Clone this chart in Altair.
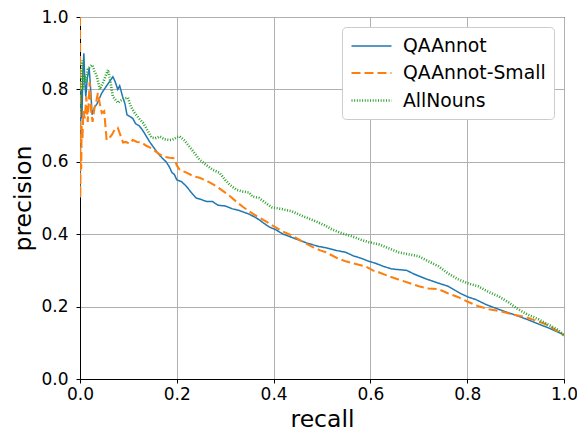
import altair as alt
import pandas as pd

series_names = ["QAAnnot", "QAAnnot-Small", "AllNouns"]
series_colors = ["#1f77b4", "#ff7f0e", "#2ca02c"]

qa_recall = [0.000, 0.002, 0.004, 0.006, 0.008, 0.010, 0.012, 0.015, 0.019, 0.022, 0.025, 0.030,
             0.035, 0.045, 0.055, 0.068, 0.073, 0.078, 0.082, 0.088, 0.093, 0.097, 0.103, 0.109,
             0.115, 0.122, 0.128, 0.135, 0.144, 0.152, 0.160, 0.170, 0.178, 0.185, 0.190, 0.195,
             0.200, 0.210, 0.220, 0.230, 0.240, 0.250, 0.262, 0.274, 0.285, 0.300, 0.315, 0.330,
             0.350, 0.360, 0.370, 0.380, 0.391, 0.405, 0.420, 0.432, 0.450, 0.470, 0.494, 0.510,
             0.530, 0.549, 0.565, 0.580, 0.597, 0.610, 0.625, 0.644, 0.660, 0.675, 0.690, 0.714,
             0.740, 0.761, 0.775, 0.788, 0.803, 0.817, 0.840, 0.864, 0.885, 0.905, 0.925, 0.947,
             0.970, 0.985, 1.000]
qa_precision = [0.50, 0.80, 0.72, 0.85, 0.90, 0.82, 0.78, 0.83, 0.86, 0.80, 0.73, 0.75,
                0.76, 0.79, 0.81, 0.835, 0.82, 0.80, 0.81, 0.78, 0.76, 0.73, 0.725, 0.72,
                0.705, 0.70, 0.69, 0.675, 0.655, 0.64, 0.625, 0.61, 0.60, 0.585, 0.57, 0.565,
                0.55, 0.545, 0.532, 0.515, 0.50, 0.496, 0.49, 0.49, 0.48, 0.478, 0.47, 0.465,
                0.455, 0.448, 0.44, 0.43, 0.42, 0.412, 0.40, 0.394, 0.385, 0.375, 0.366, 0.362,
                0.355, 0.35, 0.34, 0.334, 0.325, 0.32, 0.312, 0.304, 0.302, 0.300, 0.29, 0.277,
                0.265, 0.256, 0.245, 0.235, 0.226, 0.22, 0.205, 0.193, 0.183, 0.174, 0.164, 0.152,
                0.14, 0.131, 0.122]

small_recall = [0.0000, 0.0005, 0.0015, 0.0025, 0.0035, 0.005, 0.007, 0.010, 0.013, 0.016, 0.020,
                0.023, 0.026, 0.030, 0.034, 0.037, 0.041, 0.045, 0.050, 0.055, 0.060, 0.066, 0.072,
                0.078, 0.083, 0.089, 0.095, 0.102, 0.109, 0.118, 0.128, 0.136, 0.144, 0.155, 0.165,
                0.175, 0.185, 0.195, 0.200, 0.206, 0.220, 0.235, 0.247, 0.265, 0.282, 0.300, 0.310,
                0.323, 0.337, 0.350, 0.365, 0.385, 0.400, 0.418, 0.440, 0.459, 0.480, 0.495, 0.508,
                0.530, 0.549, 0.570, 0.590, 0.605, 0.617, 0.640, 0.658, 0.680, 0.700, 0.720, 0.741,
                0.760, 0.782, 0.800, 0.823, 0.845, 0.870, 0.895, 0.920, 0.940, 0.961, 0.980, 1.000]
small_precision = [1.00, 0.50, 0.62, 0.58, 0.70, 0.66, 0.74, 0.72, 0.78, 0.71, 0.82,
                   0.74, 0.71, 0.75, 0.77, 0.79, 0.76, 0.735, 0.74, 0.66, 0.665, 0.675, 0.69,
                   0.694, 0.675, 0.653, 0.655, 0.65, 0.66, 0.655, 0.653, 0.645, 0.64, 0.63, 0.62,
                   0.614, 0.611, 0.61, 0.59, 0.578, 0.57, 0.56, 0.556, 0.545, 0.532, 0.515, 0.505,
                   0.49, 0.475, 0.463, 0.45, 0.435, 0.422, 0.408, 0.395, 0.38, 0.365, 0.356, 0.35,
                   0.335, 0.325, 0.318, 0.311, 0.30, 0.295, 0.283, 0.275, 0.265, 0.256, 0.25, 0.248,
                   0.237, 0.226, 0.214, 0.201, 0.193, 0.187, 0.178, 0.171, 0.162, 0.152, 0.138, 0.12]

nouns_recall = [0.001, 0.004, 0.006, 0.009, 0.012, 0.016, 0.020, 0.025, 0.030, 0.035, 0.041, 0.048,
                0.058, 0.063, 0.068, 0.074, 0.078, 0.085, 0.092, 0.099, 0.106, 0.113, 0.122, 0.130,
                0.138, 0.148, 0.155, 0.165, 0.175, 0.185, 0.191, 0.200, 0.206, 0.215, 0.226, 0.236,
                0.247, 0.260, 0.274, 0.288, 0.300, 0.309, 0.323, 0.335, 0.350, 0.356, 0.370, 0.385,
                0.397, 0.415, 0.438, 0.460, 0.488, 0.505, 0.521, 0.540, 0.562, 0.580, 0.597, 0.617,
                0.640, 0.658, 0.680, 0.700, 0.720, 0.741, 0.760, 0.782, 0.800, 0.823, 0.845, 0.864,
                0.885, 0.905, 0.925, 0.947, 0.970, 0.985, 1.000]
nouns_precision = [0.74, 0.88, 0.80, 0.84, 0.82, 0.855, 0.862, 0.868, 0.85, 0.835, 0.80, 0.82,
                   0.854, 0.82, 0.78, 0.77, 0.763, 0.77, 0.775, 0.777, 0.75, 0.735, 0.72, 0.708,
                   0.69, 0.667, 0.665, 0.67, 0.662, 0.66, 0.661, 0.668, 0.67, 0.66, 0.642, 0.625,
                   0.606, 0.592, 0.578, 0.57, 0.55, 0.537, 0.523, 0.518, 0.515, 0.504, 0.50, 0.485,
                   0.474, 0.47, 0.463, 0.45, 0.435, 0.425, 0.413, 0.403, 0.394, 0.385, 0.378, 0.372,
                   0.36, 0.35, 0.344, 0.339, 0.325, 0.311, 0.292, 0.275, 0.265, 0.256, 0.24, 0.229,
                   0.212, 0.193, 0.178, 0.165, 0.148, 0.138, 0.122]

tick_values = [0.0, 0.2, 0.4, 0.6, 0.8, 1.0]

rows = []
for name, rec, prec in zip(series_names,
                           [qa_recall, small_recall, nouns_recall],
                           [qa_precision, small_precision, nouns_precision]):
    for i, (r, p) in enumerate(zip(rec, prec)):
        rows.append({"series": name, "recall": r, "precision": p, "idx": i})
df = pd.DataFrame(rows)

chart = alt.Chart(df).mark_line(clip=True).encode(
    x=alt.X("recall:Q", title="recall",
            scale=alt.Scale(domain=[0, 1], nice=False),
            axis=alt.Axis(values=tick_values, format=".1f", labelFlush=False,
                          labelPadding=3, titlePadding=5)),
    y=alt.Y("precision:Q", title="precision",
            scale=alt.Scale(domain=[0, 1], nice=False),
            axis=alt.Axis(values=tick_values, format=".1f", labelFlush=False,
                          labelPadding=8, titlePadding=5)),
    color=alt.Color("series:N", title=None,
                    scale=alt.Scale(domain=series_names, range=series_colors)),
    strokeDash=alt.StrokeDash("series:N", title=None,
                              scale=alt.Scale(domain=series_names,
                                              range=[[1, 0], [9, 4], [1, 1.65]])),
    strokeWidth=alt.StrokeWidth("series:N", title=None,
                                scale=alt.Scale(domain=series_names, range=[1.5, 2.6, 1.0])),
    order="idx:Q",
).properties(
    width=484, height=362,
    autosize=alt.AutoSizeParams(type="none"),
    padding={"left": 72, "top": 9, "right": 13, "bottom": 55},
).configure_view(
    stroke="black", strokeWidth=1
).configure_axis(
    labelFont="DejaVu Sans", titleFont="DejaVu Sans",
    labelFontSize=17, titleFontSize=23.5, titleFontWeight="normal",
    labelColor="black", titleColor="black",
    domainColor="black", tickColor="black", tickSize=4,
    gridColor="#b0b0b0", gridWidth=1,
).configure_legend(
    orient="none", legendX=262, legendY=10,
    labelFont="DejaVu Sans", labelFontSize=18.8, labelColor="black",
    symbolType="M-1,0H3", symbolSize=400,
    strokeColor="#cccccc", fillColor="white", cornerRadius=4, padding=8,
    rowPadding=5.5, labelOffset=30,
)

chart.save("out.html", embed_options={"renderer": "svg", "actions": False})
